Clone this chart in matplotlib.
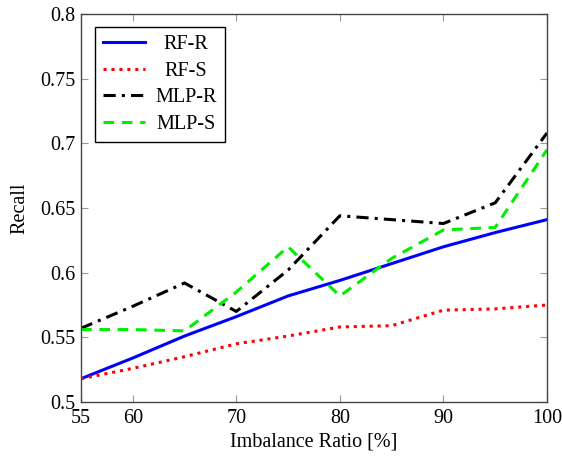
import matplotlib
matplotlib.use('Agg')
import matplotlib.pyplot as plt

# Imbalance ratio in percent
ratios = [55, 60, 65, 70, 75, 80, 85, 90, 95, 100]

rf_r = [0.518, 0.534, 0.551, 0.566, 0.582, 0.594, 0.607, 0.620, 0.631, 0.641]
rf_s = [0.518, 0.526, 0.535, 0.545, 0.551, 0.558, 0.559, 0.571, 0.572, 0.575]
mlp_r = [0.557, 0.574, 0.592, 0.570, 0.602, 0.644, 0.641, 0.638, 0.654, 0.708]
mlp_s = [0.556, 0.556, 0.555, 0.585, 0.620, 0.582, 0.611, 0.633, 0.635, 0.695]

x_ticks = [55, 60, 70, 80, 90, 100]
y_ticks = [0.5, 0.55, 0.6, 0.65, 0.7, 0.75, 0.8]
y_tick_labels = ['0.5', '0.55', '0.6', '0.65', '0.7', '0.75', '0.8']

plt.rcParams['font.family'] = ['Liberation Serif', 'DejaVu Serif']
fs = 14.5

fig = plt.figure(figsize=(5.62, 4.59), dpi=100)
ax = fig.add_axes([0.1441, 0.1242, 0.8292, 0.8453])

ax.plot(ratios, rf_r, color='#0000ff', linewidth=2.2, linestyle='-', label='RF-R')
ax.plot(ratios, rf_s, color='#ff0000', linewidth=2.2, linestyle=(0, (1, 1.6)), label='RF-S')
ax.plot(ratios, mlp_r, color='black', linewidth=2.2, linestyle=(0, (4, 2, 1, 2)), label='MLP-R')
ax.plot(ratios, mlp_s, color='#00ee00', linewidth=2.2, linestyle=(0, (3.5, 2.5)), label='MLP-S')

ax.set_xlim(55, 100)
ax.set_ylim(0.5, 0.8)
ax.set_xticks(x_ticks)
ax.set_yticks(y_ticks)
ax.set_yticklabels(y_tick_labels)
ax.tick_params(direction='in', top=True, right=True, length=5, color='#999999',
               labelsize=fs)
ax.tick_params(axis='x', pad=5)
ax.tick_params(axis='y', pad=4)
for sp in ax.spines.values():
    sp.set_color('#444444')
    sp.set_linewidth(1.0)

ax.set_xlabel('Imbalance Ratio [%]', fontsize=fs, labelpad=3)
ax.set_ylabel('Recall', fontsize=fs, labelpad=8)

leg = ax.legend(loc='upper left', bbox_to_anchor=(0.03, 0.967), borderaxespad=0,
                fancybox=False, edgecolor='black', framealpha=1,
                handlelength=2.1, handletextpad=0.5,
                borderpad=0.4, labelspacing=0.38, fontsize=fs)
leg.get_frame().set_linewidth(1.0)

# centre legend labels like pgfplots does
renderer = fig.canvas.get_renderer()
texts = leg.get_texts()
widths = [t.get_window_extent(renderer).width for t in texts]
maxw = max(widths)
for t, w in zip(texts, widths):
    t.set_x((maxw - w) / 2)

fig.savefig('out.png', dpi=100)
